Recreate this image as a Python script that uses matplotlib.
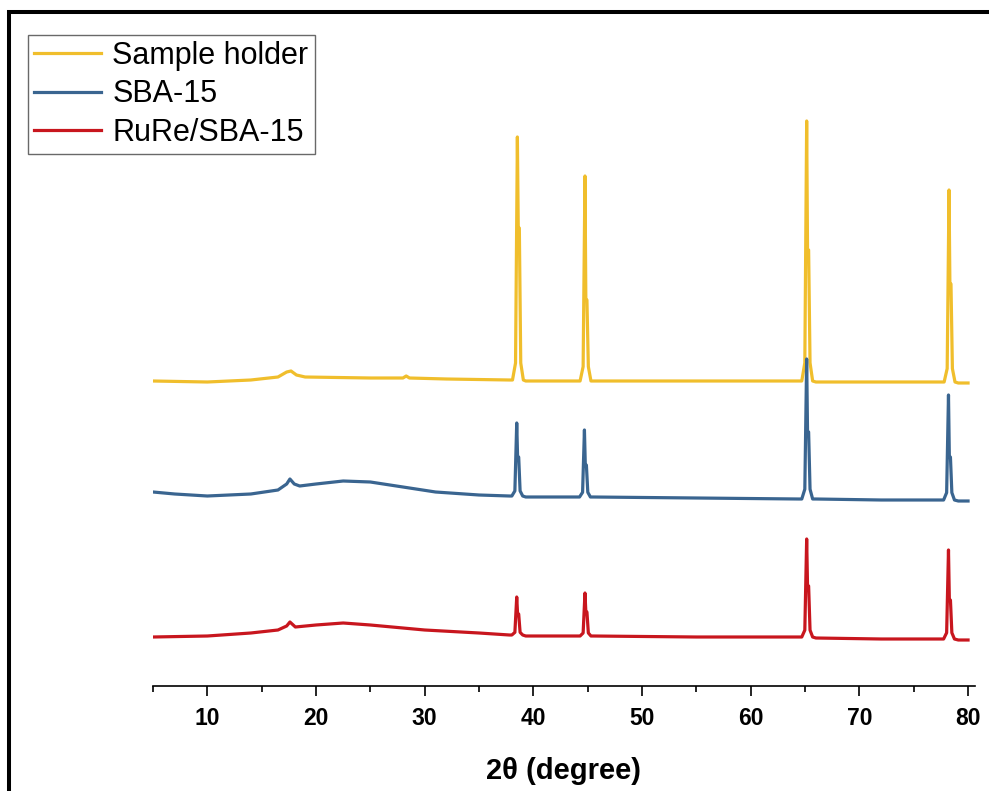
import matplotlib
matplotlib.use("Agg")
import matplotlib.pyplot as plt
from matplotlib.patches import Rectangle
from matplotlib.ticker import MultipleLocator

# ---------------- data (intensity, a.u., stacked) ----------------
series_names = ["Sample holder", "SBA-15", "RuRe/SBA-15"]
series_colors = ["#F0BE2C", "#3A6590", "#C8161E"]

# baseline points (2theta, intensity)
holder_base_x = [5, 10, 14, 16.5, 17.3, 17.7, 18.2, 19, 25, 28, 28.3, 28.6, 32, 37.8,
                 39.3, 44.0, 45.5, 55, 64.4, 66.0, 72, 77.5, 79.1, 80]
holder_base_y = [305, 304, 306, 309, 314, 315, 311, 309, 308, 308, 310, 308, 307, 306,
                 305, 305, 305, 305, 305, 304, 304, 304, 303, 303]

sba_base_x = [5, 7, 10, 14, 16.5, 17.3, 17.6, 18.0, 18.5, 20, 22.5, 25, 28, 31, 35, 37.8,
              39.3, 44.0, 45.5, 55, 64.4, 66.0, 72, 77.5, 79.1, 80]
sba_base_y = [194, 192, 190, 192, 196, 202, 207, 202, 200, 202, 205, 204, 199, 194, 191, 190,
              189, 189, 189, 188, 187, 187, 186, 186, 185, 185]

rure_base_x = [5, 10, 14, 16.5, 17.3, 17.6, 18.1, 20, 22.5, 25, 30, 35, 37.8,
               39.3, 44.0, 45.5, 55, 64.4, 66.0, 72, 77.5, 79.1, 80]
rure_base_y = [49, 50, 53, 56, 60, 64, 59, 61, 63, 61, 56, 53, 51,
               50, 50, 50, 49, 49, 48, 47, 47, 46, 46]

# peaks: (position, base, top, K-alpha2 shoulder)
holder_peaks = [(38.58, 306, 549, 458), (44.8, 305, 510, 386),
                (65.2, 305, 565, 436), (78.3, 304, 496, 402)]
sba_peaks = [(38.52, 190, 263, 229), (44.75, 189, 256, 221),
             (65.2, 187, 327, 254), (78.25, 186, 291, 229)]
rure_peaks = [(38.52, 51, 89, 72), (44.8, 50, 93, 74),
              (65.2, 49, 147, 100), (78.25, 47, 136, 86)]

xlim = (5, 80.64)
xlabel = "2\u03b8 (degree)"


def build(bx, by, peaks):
    pts = list(zip(bx, by))
    for p, b, t, s in peaks:
        h = t - b
        pts += [(p - 0.5, b), (p - 0.22, b + 0.07 * h), (p - 0.05, t),
                (p + 0.03, s), (p + 0.13, s), (p + 0.26, b + 0.07 * h), (p + 0.5, b)]
    pts.sort()
    return [q[0] for q in pts], [q[1] for q in pts]


data = [build(holder_base_x, holder_base_y, holder_peaks),
        build(sba_base_x, sba_base_y, sba_peaks),
        build(rure_base_x, rure_base_y, rure_peaks)]

# ---------------- figure ----------------
W, H = 989, 791
fig = plt.figure(figsize=(W / 100, H / 100), dpi=100)
ax = fig.add_axes([153 / W, (H - 686) / H, 822 / W, 666 / H])

lines = []
for (x, y), name, c in zip(data, series_names, series_colors):
    ln, = ax.plot(x, y, color=c, lw=2.3, label=name, solid_joinstyle="round")
    lines.append(ln)

ax.set_xlim(*xlim)
ax.set_ylim(0, 666)
for s in ["left", "right", "top"]:
    ax.spines[s].set_visible(False)
ax.spines["bottom"].set_linewidth(1.2)
ax.set_yticks([])
ax.xaxis.set_major_locator(MultipleLocator(10))
ax.xaxis.set_minor_locator(MultipleLocator(5))
ax.tick_params(axis="x", which="major", length=7, width=1.2, direction="out", pad=8)
ax.tick_params(axis="x", which="minor", length=4.5, width=1.2, direction="out")
ax.set_xticks([10, 20, 30, 40, 50, 60, 70, 80])
for lab in ax.get_xticklabels():
    lab.set_fontfamily("Liberation Sans")
    lab.set_fontweight("bold")
    lab.set_fontsize(16.5)
ax.set_xlabel(xlabel, fontfamily="Liberation Sans", fontweight="bold", fontsize=21, labelpad=19.5)

leg = fig.legend(handles=lines, loc="upper left", bbox_to_anchor=(28 / W, 1 - 35 / H),
                 bbox_transform=fig.transFigure, borderaxespad=0, frameon=True, fancybox=False,
                 prop={"family": "Liberation Sans", "size": 22}, handlelength=2.2,
                 handletextpad=0.36, labelspacing=0.27, borderpad=0.2)
leg.get_frame().set_edgecolor("#444444")
leg.get_frame().set_linewidth(1.0)
for l in leg.get_lines():
    l.set_linewidth(2.3)

# outer black frame (cut off at right and bottom)
fig.patches.append(Rectangle((9 / W, -0.2), 1.5, 1.2 - 12 / H, transform=fig.transFigure,
                             fill=False, edgecolor="black", linewidth=2.9, clip_on=False))

fig.savefig("out.png", dpi=100)
